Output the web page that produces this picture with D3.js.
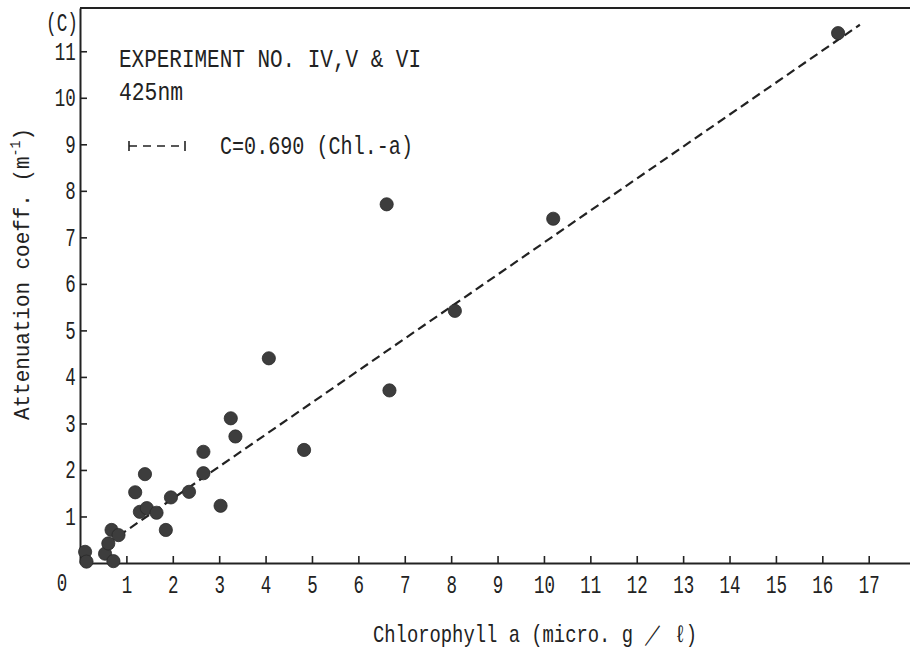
<!DOCTYPE html>
<html>
<head>
<meta charset="utf-8">
<script src="https://cdn.jsdelivr.net/npm/d3@7"></script>
<style>
  html, body { margin: 0; padding: 0; background: #fff; }
  svg { display: block; }
  text { font-family: "Liberation Mono", "DejaVu Sans Mono", monospace; fill: #222; }
</style>
</head>
<body>
<svg id="chart" width="910" height="650"></svg>
<script>
// ---- data ----
const chlorophyll = [0.11, 0.14, 0.54, 0.72, 0.61, 0.68, 0.83, 1.19, 1.40, 1.29, 1.44, 1.65, 1.85, 1.96, 2.35, 2.66, 2.66, 3.03, 3.25, 3.35, 4.07, 4.83, 6.61, 6.67, 8.08, 10.20, 16.34];
const attenuation = [0.24, 0.03, 0.20, 0.04, 0.42, 0.71, 0.60, 1.52, 1.91, 1.10, 1.18, 1.08, 0.71, 1.41, 1.53, 1.93, 2.39, 1.23, 3.11, 2.72, 4.40, 2.43, 7.71, 3.71, 5.42, 7.40, 11.39];
const fitX = [0.83, 16.81];
const fitY = [0.58, 11.57];
const xTicks = [1, 2, 3, 4, 5, 6, 7, 8, 9, 10, 11, 12, 13, 14, 15, 16, 17];
const yTicks = [1, 2, 3, 4, 5, 6, 7, 8, 9, 10, 11];
const panelLabel = "(C)";
const noteLines = ["EXPERIMENT NO. IV,V & VI", "425nm"];
const legendLabel = "C=0.690 (Chl.-a)";
const xTitle = "Chlorophyll a (micro. g ／ ℓ)";
const yTitleMain = "Attenuation coeff. (m";
const yTitleSup = "-1";
const yTitleEnd = ")";

// ---- layout ----
const svg = d3.select("#chart");
const ink = "#222";
const x = d3.scaleLinear().domain([0, 17.89]).range([80, 910]);
const y = d3.scaleLinear().domain([0, 11.93]).range([563, 8]);

// top frame line
svg.append("line").attr("x1", x(0)).attr("x2", 910).attr("y1", y.range()[1]).attr("y2", y.range()[1])
  .attr("stroke", ink).attr("stroke-width", 2);

const xAxis = d3.axisBottom(x).tickValues(xTicks).tickSizeInner(-7).tickSizeOuter(0).tickPadding(12)
  .tickFormat(d3.format("d"));
const gx = svg.append("g").attr("transform", `translate(0,${y(0)})`).call(xAxis);
gx.select(".domain").attr("stroke", ink).attr("stroke-width", 2);
gx.selectAll(".tick line").attr("stroke", ink).attr("stroke-width", 1.6);
gx.selectAll(".tick text").attr("font-size", 25).attr("fill", ink)
  .attr("font-family", "Liberation Mono").attr("transform", "scale(0.7,1)");

const yAxis = d3.axisLeft(y).tickValues(yTicks).tickSizeInner(-7).tickSizeOuter(0).tickPadding(6)
  .tickFormat(d3.format("d"));
const gy = svg.append("g").attr("transform", `translate(${x(0)},0)`).call(yAxis);
gy.select(".domain").attr("stroke", ink).attr("stroke-width", 2);
gy.selectAll(".tick line").attr("stroke", ink).attr("stroke-width", 1.6);
gy.selectAll(".tick text").attr("font-size", 25).attr("fill", ink)
  .attr("font-family", "Liberation Mono").attr("transform", "scale(0.7,1)");

// origin label "0"
svg.append("text").attr("x", 62 / 0.7).attr("y", 591).attr("text-anchor", "middle")
  .attr("font-size", 25).attr("transform", "scale(0.7,1)").text("0");

// regression line
const line = d3.line().x(d => x(d[0])).y(d => y(d[1]));
svg.append("path").datum(d3.zip(fitX, fitY)).attr("d", line)
  .attr("fill", "none").attr("stroke", ink).attr("stroke-width", 2.2).attr("stroke-dasharray", "9,5");

// points
svg.append("g").selectAll("circle").data(d3.zip(chlorophyll, attenuation)).join("circle")
  .attr("cx", d => x(d[0])).attr("cy", d => y(d[1])).attr("r", 6.6)
  .attr("fill", "#3d3d3d").attr("stroke", "#2a2a2a").attr("stroke-width", 0.8);

// panel label and notes
svg.append("text").attr("x", 46).attr("y", 31).attr("font-size", 25)
  .attr("textLength", 32).attr("lengthAdjust", "spacingAndGlyphs").text(panelLabel);
svg.append("text").attr("x", 119).attr("y", 67).attr("font-size", 25)
  .attr("textLength", 302).attr("lengthAdjust", "spacingAndGlyphs").text(noteLines[0]);
svg.append("text").attr("x", 119).attr("y", 100).attr("font-size", 25)
  .attr("textLength", 64).attr("lengthAdjust", "spacingAndGlyphs").text(noteLines[1]);

// legend
const lg = svg.append("g").attr("stroke", ink).attr("stroke-width", 1.6).attr("fill", "none");
lg.append("line").attr("x1", 129).attr("x2", 184).attr("y1", 146).attr("y2", 146).attr("stroke-dasharray", "8,6");
lg.append("line").attr("x1", 129).attr("x2", 129).attr("y1", 141).attr("y2", 151);
lg.append("line").attr("x1", 185).attr("x2", 185).attr("y1", 141).attr("y2", 151);
svg.append("text").attr("x", 220).attr("y", 154).attr("font-size", 25)
  .attr("textLength", 193).attr("lengthAdjust", "spacingAndGlyphs").text(legendLabel);

// axis titles
svg.append("text").attr("x", 535).attr("y", 642).attr("text-anchor", "middle").attr("font-size", 24)
  .attr("textLength", 324).attr("lengthAdjust", "spacingAndGlyphs").text(xTitle);

const yt = svg.append("text").attr("transform", "translate(29,274) rotate(-90)")
  .attr("text-anchor", "middle").attr("font-size", 22)
  .attr("textLength", 292).attr("lengthAdjust", "spacingAndGlyphs");
yt.append("tspan").text(yTitleMain);
yt.append("tspan").attr("font-size", 14).attr("dy", -9).text(yTitleSup);
yt.append("tspan").attr("dy", 9).text(yTitleEnd);
</script>
</body>
</html>
